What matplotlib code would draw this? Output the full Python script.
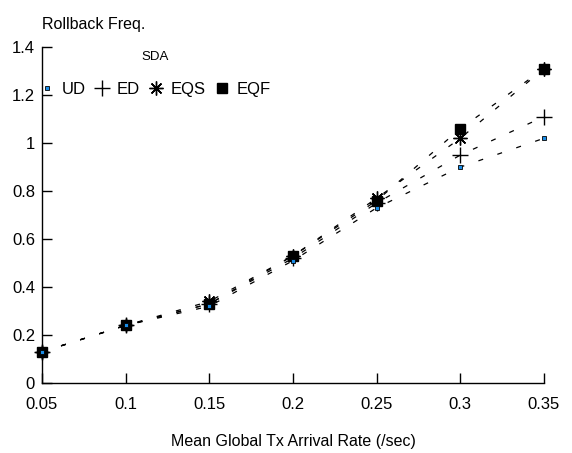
import numpy as np
import matplotlib
matplotlib.use('Agg')
import matplotlib.pyplot as plt
from matplotlib.lines import Line2D

plt.rcParams['font.family'] = ['Liberation Sans', 'DejaVu Sans']

rates = [0.05, 0.10, 0.15, 0.20, 0.25, 0.30, 0.35]
ud = [0.13, 0.24, 0.32, 0.51, 0.73, 0.90, 1.02]
ed = [0.13, 0.24, 0.33, 0.52, 0.75, 0.95, 1.11]
eqs = [0.13, 0.24, 0.34, 0.53, 0.77, 1.02, 1.31]
eqf = [0.13, 0.24, 0.33, 0.53, 0.76, 1.06, 1.31]


def main():
    fig = plt.figure(figsize=(5.72, 4.53), dpi=100)
    ax = fig.add_axes([0.0734, 0.1545, 0.8776, 0.7415])

    dash = (0, (4, 12))
    ax.plot(rates, eqf, color='black', lw=0.9, linestyle=dash, marker='s',
            ms=7, mfc='black', mec='black', zorder=2, clip_on=False)
    ax.plot(rates, eqs, color='black', lw=0.9, linestyle=dash, marker=(8, 2, 0),
            ms=10, mec='black', mew=1.0, zorder=3, clip_on=False)
    ax.plot(rates, ed, color='black', lw=0.9, linestyle=dash, marker='+',
            ms=12, mec='black', mew=1.0, zorder=4, clip_on=False)
    ax.plot(rates, ud, color='black', lw=0.9, linestyle=dash, marker='s',
            ms=3.2, mfc='#1a8ce6', mec='black', mew=0.6, zorder=5, clip_on=False)

    ax.set_xlim(0.05, 0.35)
    ax.set_ylim(0, 1.4)
    ax.set_xticks([0.05, 0.1, 0.15, 0.2, 0.25, 0.3, 0.35])
    ax.set_xticklabels(['0.05', '0.1', '0.15', '0.2', '0.25', '0.3', '0.35'])
    ax.set_yticks([0, 0.2, 0.4, 0.6, 0.8, 1, 1.2, 1.4])
    ax.set_yticklabels(['0', '0.2', '0.4', '0.6', '0.8', '1', '1.2', '1.4'])
    ax.tick_params(direction='in', length=7, width=1, labelsize=12)
    ax.tick_params(axis='x', pad=10)
    ax.tick_params(axis='y', pad=5)
    for s in ['top', 'right']:
        ax.spines[s].set_visible(False)
    for s in ['left', 'bottom']:
        ax.spines[s].set_linewidth(1)

    ax.set_xlabel('Mean Global Tx Arrival Rate (/sec)', fontsize=11.5, labelpad=16)
    fig.text(0.073, 0.945, 'Rollback Freq.', fontsize=11.5, ha='left', va='center')
    fig.text(155 / 572, 1 - 57 / 453, 'SDA', fontsize=9.5, ha='center', va='center')

    handles = [
        Line2D([], [], linestyle='none', marker='s', ms=3.2, mfc='#1a8ce6', mec='black', mew=0.6),
        Line2D([], [], linestyle='none', marker='+', ms=12, mec='black', mew=1.0),
        Line2D([], [], linestyle='none', marker=(8, 2, 0), ms=10, mec='black', mew=1.0),
        Line2D([], [], linestyle='none', marker='s', ms=7, mfc='black', mec='black'),
    ]
    ax.legend(handles, ['UD', 'ED', 'EQS', 'EQF'], ncol=4, frameon=False,
              fontsize=12, handlelength=1.0, handletextpad=0.4, columnspacing=0.45,
              loc='center left', bbox_to_anchor=(-0.02, (383 - 89) / 336),
              borderaxespad=0)
    fig.savefig('out.png', dpi=100)


if __name__ == '__main__':
    main()
